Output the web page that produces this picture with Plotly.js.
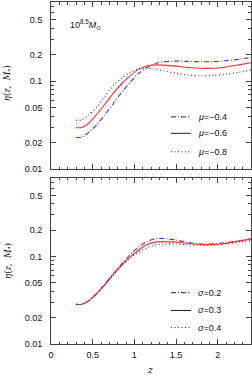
<!DOCTYPE html>
<html><head><meta charset="utf-8">
<script src="https://cdn.plot.ly/plotly-3.0.1.min.js"></script>
<style>html,body{margin:0;padding:0;background:#fff}#chart{width:252px;height:375px}</style>
</head><body><div id="chart"></div>
<script>
// redshift samples
const z = [0.3, 0.37, 0.45, 0.55, 0.65, 0.75, 0.85, 0.95, 1.05, 1.15, 1.25, 1.35, 1.5, 1.65, 1.8, 1.95, 2.1, 2.25, 2.4];
// top panel: mu variations
const muLabels = ['μ=−0.4', 'μ=−0.6', 'μ=−0.8'];
const etaMu04 = [0.0229, 0.0231, 0.026, 0.032, 0.042, 0.056, 0.075, 0.097, 0.122, 0.142, 0.158, 0.166, 0.169, 0.168, 0.166, 0.167, 0.171, 0.177, 0.186];
const etaMu06 = [0.0295, 0.0297, 0.033, 0.042, 0.055, 0.073, 0.094, 0.115, 0.136, 0.149, 0.153, 0.152, 0.148, 0.143, 0.140, 0.140, 0.145, 0.153, 0.162];
const etaMu08 = [0.036, 0.0363, 0.041, 0.051, 0.068, 0.090, 0.108, 0.126, 0.138, 0.141, 0.137, 0.131, 0.123, 0.117, 0.115, 0.116, 0.120, 0.126, 0.134];
// bottom panel: sigma variations
const sigLabels = ['σ=0.2', 'σ=0.3', 'σ=0.4'];
const etaSig02 = [0.0284, 0.0285, 0.031, 0.038, 0.049, 0.064, 0.083, 0.105, 0.128, 0.148, 0.160, 0.161, 0.154, 0.145, 0.139, 0.140, 0.144, 0.151, 0.160];
const etaSig03 = [0.0284, 0.0285, 0.031, 0.038, 0.048, 0.063, 0.080, 0.099, 0.118, 0.136, 0.146, 0.148, 0.146, 0.141, 0.137, 0.137, 0.142, 0.150, 0.158];
const etaSig04 = [0.0284, 0.0285, 0.031, 0.038, 0.048, 0.062, 0.079, 0.096, 0.112, 0.126, 0.135, 0.139, 0.139, 0.136, 0.134, 0.135, 0.139, 0.145, 0.152];
// axis ticks
const yTickVals = [0.01, 0.02, 0.05, 0.1, 0.2, 0.5];
const yTickText = ['0.01', '0.02', '0.05', '0.1', '0.2', '0.5'];
const yMinorVals = [0.03, 0.04, 0.06, 0.07, 0.08, 0.09, 0.3, 0.4, 0.6, 0.7];
const xTickVals = [0, 0.5, 1, 1.5, 2];
const xTickText = ['0', '0.5', '1', '1.5', '2'];

const BLUE = '#3a3aff', RED = '#ff3030', BLACK = '#333';
const styles = [
  {color: BLUE, dash: '5px,2px,1px,2px'},
  {color: RED, dash: 'solid'},
  {color: BLACK, dash: '1px,2.5px'}
];
const font = {family: 'Liberation Sans, Arial, sans-serif', size: 9, color: '#111'};

function tr(y, s, xa, ya) {
  return {x: z, y: y, type: 'scatter', mode: 'lines', xaxis: xa, yaxis: ya,
    line: {color: s.color, dash: s.dash, width: 1.1, shape: 'spline', smoothing: 0.8},
    hoverinfo: 'skip', showlegend: false};
}
const data = [
  tr(etaMu04, styles[0], 'x2', 'y2'), tr(etaMu06, styles[1], 'x2', 'y2'), tr(etaMu08, styles[2], 'x2', 'y2'),
  tr(etaSig02, styles[0], 'x', 'y'), tr(etaSig03, styles[1], 'x', 'y'), tr(etaSig04, styles[2], 'x', 'y')
];

const axCol = '#444';
function xax(showLabels, anchor) {
  return {range: [0, 2.4], anchor: anchor, showgrid: false, zeroline: false,
    showline: true, mirror: 'allticks', linecolor: axCol, linewidth: 1,
    ticks: 'inside', ticklen: 5, tickcolor: axCol, tickwidth: 1,
    tickmode: 'array', tickvals: xTickVals, ticktext: xTickText,
    showticklabels: showLabels, tickfont: font, ticklabelstandoff: 2,
    minor: {dtick: 0.1, tick0: 0, ticks: 'inside', ticklen: 2.5, tickcolor: axCol, tickwidth: 1, showgrid: false}};
}
function yax(domain, anchor) {
  return {type: 'log', range: [-2, -0.1], domain: domain, anchor: anchor, showgrid: false, zeroline: false,
    showline: true, mirror: 'allticks', linecolor: axCol, linewidth: 1,
    ticks: 'inside', ticklen: 5, tickcolor: axCol, tickwidth: 1,
    tickmode: 'array', tickvals: yTickVals, ticktext: yTickText, tickfont: font, ticklabelstandoff: 6,
    minor: {tickmode: 'array', tickvals: yMinorVals, ticks: 'inside', ticklen: 3, tickcolor: axCol, tickwidth: 1, showgrid: false}};
}

const annotations = [];
const shapes = [];
function legend(labels, ys) {
  labels.forEach((lab, i) => {
    const parts = lab.split('=');
    shapes.push({type: 'line', xref: 'paper', yref: 'paper', x0: 0.60, x1: 0.70, y0: ys[i], y1: ys[i],
      line: {color: '#222', width: 1, dash: styles[i].dash}});
    annotations.push({xref: 'paper', yref: 'paper', x: 0.725, y: ys[i], xanchor: 'left', yanchor: 'middle',
      text: '<i>' + parts[0] + '</i>=' + parts[1], showarrow: false, font: font});
  });
}
legend(muLabels, [0.664, 0.616, 0.562]);
legend(sigLabels, [0.150, 0.098, 0.048]);

annotations.push({xref: 'paper', yref: 'paper', x: 0.085, y: 0.933, xanchor: 'left', yanchor: 'middle',
  text: '10<sup>8.5</sup><i>M</i><sub>⊙</sub>', showarrow: false, font: font});
[0.7635, 0.2438].forEach(yy => annotations.push({xref: 'paper', yref: 'paper', x: -0.2135, y: yy,
  xanchor: 'center', yanchor: 'middle', textangle: -90, showarrow: false,
  text: '<i>η</i>(<i>z</i>,  <i>M</i><sub>*</sub>)', font: {family: 'DejaVu Serif, serif', size: 8.5, color: '#111'}}));
annotations.push({xref: 'paper', yref: 'paper', x: 0.4965, y: -0.077, xanchor: 'center', yanchor: 'middle',
  text: '<i>z</i>', showarrow: false, font: {family: 'DejaVu Serif, serif', size: 9, color: '#111'}});

const layout = {
  width: 252, height: 375,
  margin: {l: 50.7, r: 1.3, t: 2, b: 30.5, pad: 0},
  paper_bgcolor: '#fff', plot_bgcolor: '#fff',
  showlegend: false,
  xaxis: xax(true, 'y'),
  yaxis: yax([0, 0.486], 'x'),
  xaxis2: xax(false, 'y2'),
  yaxis2: yax([0.5115, 1], 'x2'),
  annotations: annotations, shapes: shapes, font: font
};
Plotly.newPlot('chart', data, layout, {staticPlot: true, displayModeBar: false});
</script></body></html>
